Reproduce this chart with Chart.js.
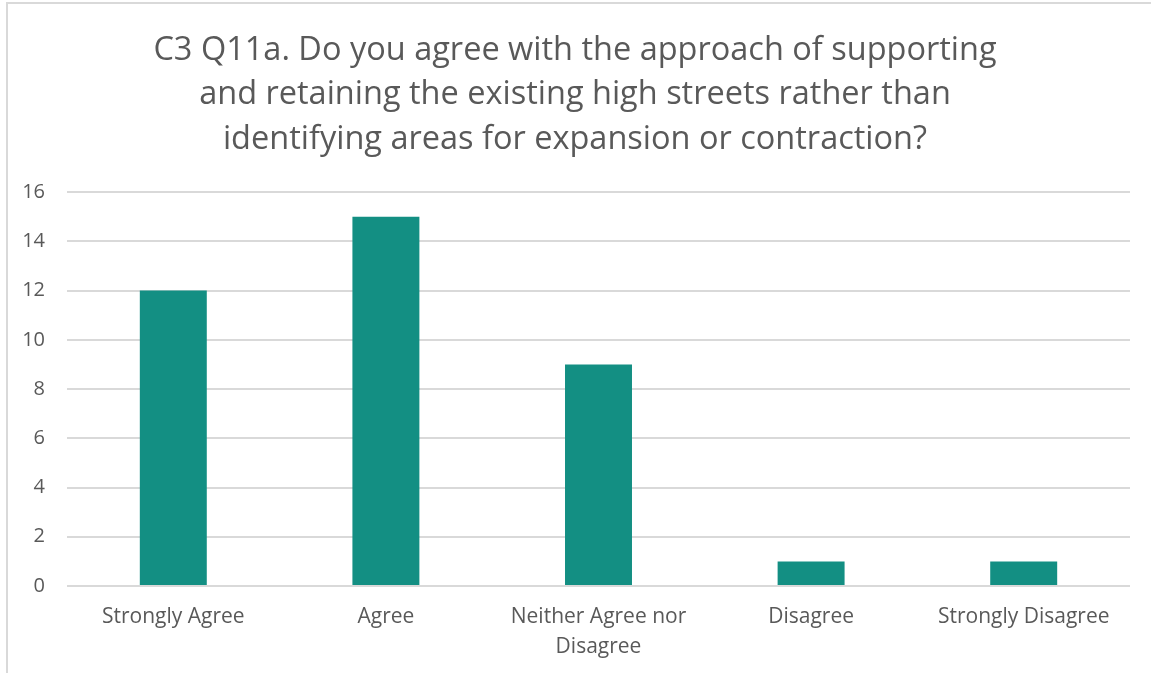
<!DOCTYPE html>
<html>
<head>
<meta charset="utf-8">
<script src="https://cdn.jsdelivr.net/npm/chart.js@4"></script>
<style>
  html, body { margin: 0; padding: 0; background: #fff; }
  body { width: 1151px; height: 673px; overflow: hidden; position: relative; }
  .frame {
    position: absolute; left: 6px; top: 2px; width: 1200px; height: 700px;
    border-left: 2px solid #d9d9d9; border-top: 2px solid #d9d9d9;
  }
  .wrap { position: absolute; left: 0; top: 0; width: 1151px; height: 673px; }
</style>
</head>
<body>
<div class="frame"></div>
<div class="wrap"><canvas id="chart"></canvas></div>
<script>
// --- Data ---
const titleLines = [
  'C3 Q11a. Do you agree with the approach of supporting',
  'and retaining the existing high streets rather than',
  'identifying areas for expansion or contraction?'
];
const categories = [
  'Strongly Agree',
  'Agree',
  ['Neither Agree nor', 'Disagree'],
  'Disagree',
  'Strongly Disagree'
];
const responses = [12, 15, 9, 1, 1];
const yMin = 0;
const yMax = 16;
const yStep = 2;

// --- Style ---
const FONT = '"Open Sans", "Noto Sans", sans-serif';
const TEXT = '#595959';
const GRID = '#d9d9d9';
const BAR = '#138f83';

const ctx = document.getElementById('chart');
new Chart(ctx, {
  type: 'bar',
  data: {
    labels: categories,
    datasets: [{
      data: responses,
      backgroundColor: BAR,
      borderWidth: 0,
      categoryPercentage: 1,
      barPercentage: 0.315
    }]
  },
  options: {
    responsive: true,
    maintainAspectRatio: false,
    animation: false,
    layout: { padding: { left: 20, right: 21, top: 0, bottom: 0 } },
    plugins: {
      legend: { display: false },
      tooltip: { enabled: false },
      title: {
        display: true,
        text: titleLines,
        color: TEXT,
        font: { family: FONT, size: 32.5, weight: 'normal', lineHeight: 1.37 },
        padding: { top: 28, bottom: 30.5 }
      }
    },
    scales: {
      x: {
        grid: { display: false, drawTicks: false },
        border: { display: false },
        ticks: {
          color: TEXT,
          font: { family: FONT, size: 21, lineHeight: 1.43 },
          padding: 16,
          maxRotation: 0,
          autoSkip: false
        },
        afterFit: (scale) => { scale.height = 87; }
      },
      y: {
        min: yMin,
        max: yMax,
        grid: { color: GRID, lineWidth: 2, drawTicks: false },
        border: { display: false },
        ticks: {
          stepSize: yStep,
          color: TEXT,
          font: { family: FONT, size: 20 },
          padding: 22
        },
        afterFit: (scale) => { scale.width = 47; }
      }
    }
  }
});
</script>
</body>
</html>
